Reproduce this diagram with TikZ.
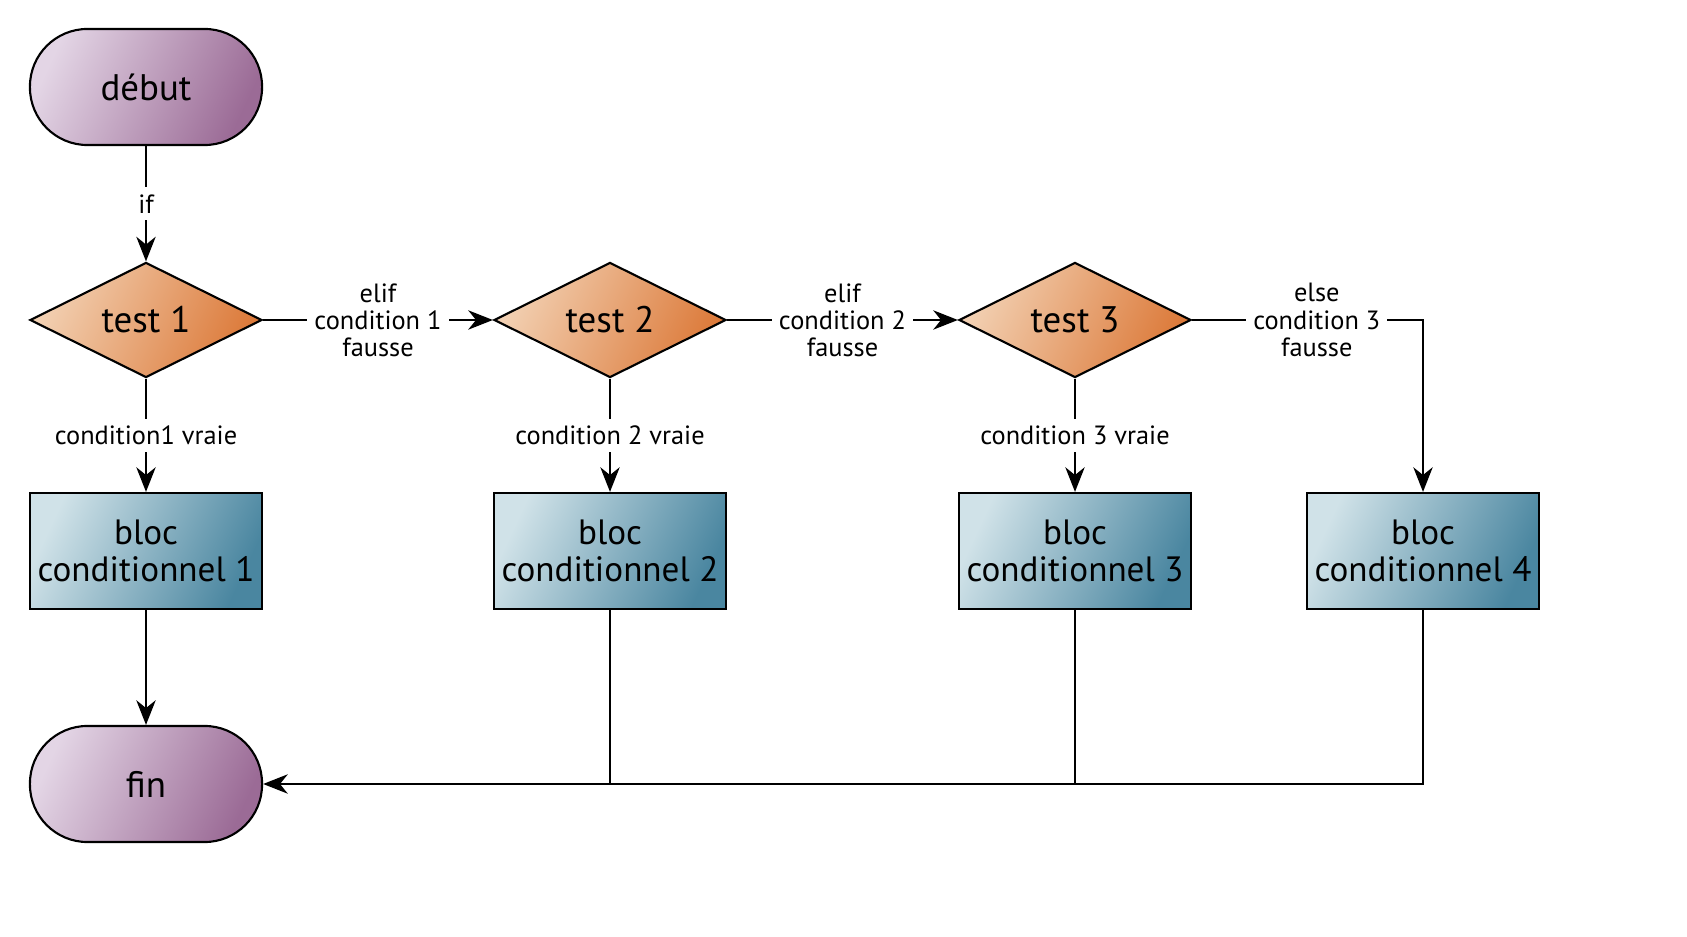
\documentclass[tikz,border=0pt]{standalone}
\usepackage{fontspec}
\setmainfont{PT Sans}
\usetikzlibrary{arrows.meta,shapes.geometric}

\definecolor{mauveA}{HTML}{E3D5E5}
\definecolor{mauveB}{HTML}{9B6B96}
\definecolor{orangeA}{HTML}{F2D0B2}
\definecolor{orangeB}{HTML}{DC7A3A}
\definecolor{bleuA}{HTML}{D0E2E8}
\definecolor{bleuB}{HTML}{4A86A0}

\begin{document}
\begin{tikzpicture}[x=0.01cm,y=-0.01cm,line width=0.6pt,
  >={Stealth[length=7pt,width=5.5pt,inset=2.2pt]},
  terminal/.style={draw,rectangle,rounded corners=0.575cm,minimum width=2.32cm,minimum height=1.16cm,
    left color=mauveA,right color=mauveB,shading angle=65,font=\fontsize{10.5}{10.5}\selectfont},
  test/.style={draw,diamond,aspect=2,inner sep=0pt,minimum width=2.32cm,minimum height=1.15cm,
    left color=orangeA,right color=orangeB,shading angle=65,font=\fontsize{10.5}{10.5}\selectfont},
  bloc/.style={draw,rectangle,minimum width=2.32cm,minimum height=1.16cm,align=center,inner xsep=1pt,
    left color=bleuA,right color=bleuB,shading angle=65,font=\fontsize{10}{10.5}\selectfont},
  lbl/.style={fill=white,align=center,inner sep=2pt,font=\fontsize{7.5}{7.7}\selectfont}]

  \useasboundingbox (0,0) rectangle (1687,937);

  \node[terminal] (debut) at (146,87) {début};
  \node[test] (test1) at (146,320) {test 1};
  \node[test] (test2) at (610,320) {test 2};
  \node[test] (test3) at (1075,320) {test 3};

  \node[bloc] (bloc1) at (146,551) {bloc\\conditionnel 1};
  \node[bloc] (bloc2) at (610,551) {bloc\\conditionnel 2};
  \node[bloc] (bloc3) at (1075,551) {bloc\\conditionnel 3};
  \node[bloc] (bloc4) at (1423,551) {bloc\\conditionnel 4};

  \node[terminal] (fin) at (146,784) {fin};

  \draw[->] (debut) -- node[lbl] {if} (test1);
  \draw[->] (test1) -- node[lbl] {elif\\condition 1\\fausse} (test2);
  \draw[->] (test2) -- node[lbl] {elif\\condition 2\\fausse} (test3);
  \draw[->] (test3) -| node[lbl,pos=0.27] {else\\condition 3\\fausse} (bloc4);

  \draw[->] (test1) -- node[lbl] {condition1 vraie} (bloc1);
  \draw[->] (test2) -- node[lbl] {condition 2 vraie} (bloc2);
  \draw[->] (test3) -- node[lbl] {condition 3 vraie} (bloc3);

  \draw[->] (bloc1) -- (fin);
  \draw[->] (bloc4) |- (fin);
  \draw (bloc3) -- (bloc3 |- fin);
  \draw (bloc2) -- (bloc2 |- fin);

\end{tikzpicture}
\end{document}
